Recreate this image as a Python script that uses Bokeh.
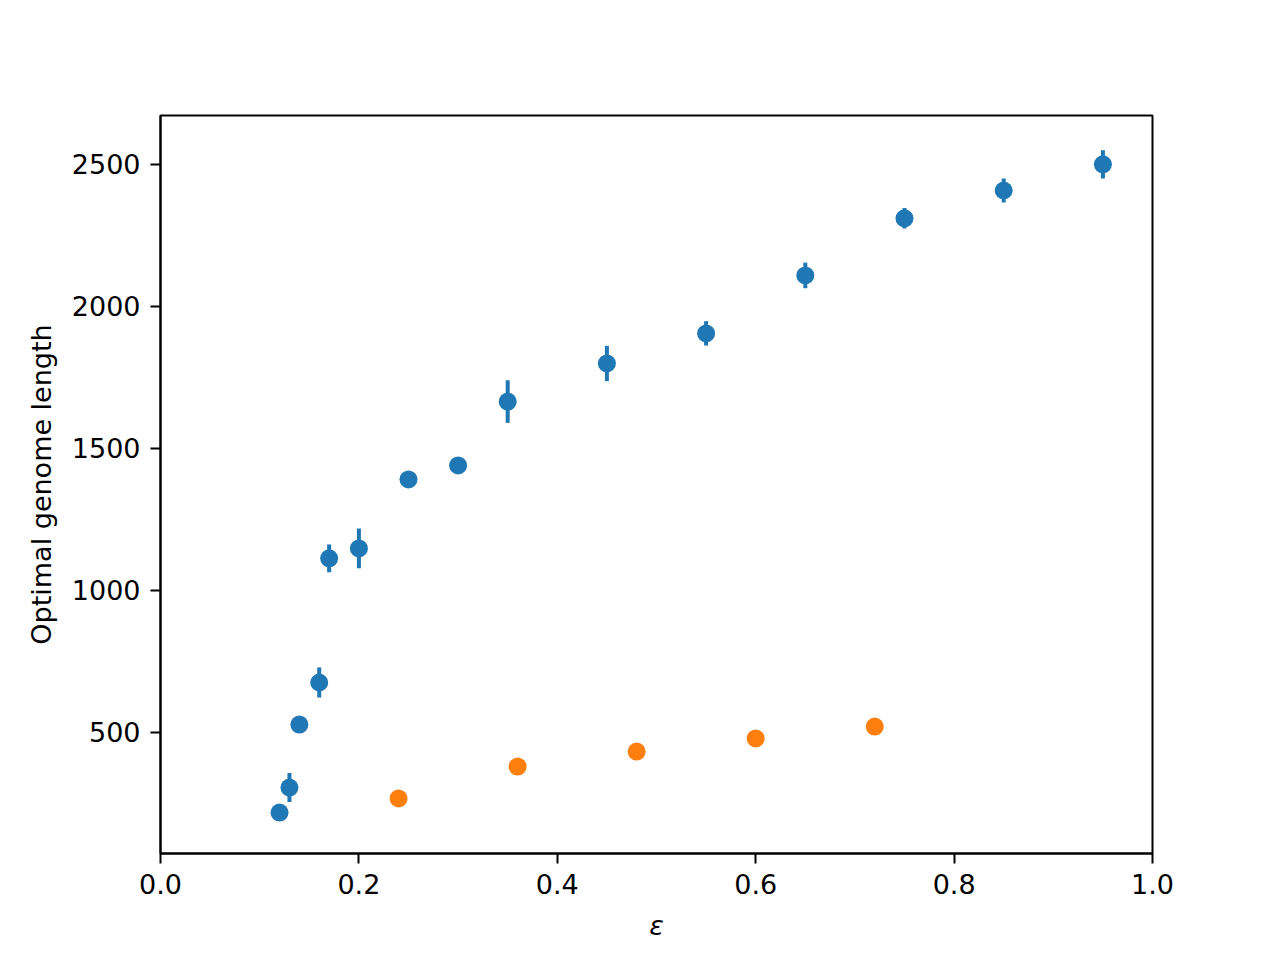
from bokeh.plotting import figure
from bokeh.models import ColumnDataSource, FixedTicker, CustomJSTickFormatter, Range1d
from bokeh.embed import file_html
from bokeh.resources import INLINE

# Blue series (with error bars)
blue_eps = [0.12, 0.13, 0.14, 0.16, 0.17, 0.20, 0.25, 0.30, 0.35, 0.45, 0.55, 0.65, 0.75, 0.85, 0.95]
blue_len = [218, 306, 528, 676, 1113, 1148, 1391, 1440, 1665, 1799, 1905, 2109, 2310, 2408, 2500]
blue_err = [15, 51, 15, 53, 49, 70, 15, 15, 75, 62, 43, 45, 36, 42, 50]

# Orange series (no error bars)
orange_eps = [0.24, 0.36, 0.48, 0.60, 0.72]
orange_len = [268, 380, 433, 479, 521]

x_ticks = [0.0, 0.2, 0.4, 0.6, 0.8, 1.0]
y_ticks = [500, 1000, 1500, 2000, 2500]

BLUE = "#1f77b4"
ORANGE = "#ff7f0e"
FONT = "DejaVu Sans"
FS = "27px"

W, H = 1264, 944
p = figure(width=W, height=H, output_backend="svg", toolbar_location=None,
           x_range=Range1d(0, 1), y_range=Range1d(74, 2672),
           min_border_left=160, min_border_right=W - 1152,
           min_border_top=115, min_border_bottom=H - 853)

p.background_fill_color = "white"
p.border_fill_color = "white"
p.outline_line_color = "black"
p.outline_line_width = 2
p.xgrid.visible = False
p.ygrid.visible = False

bsrc = ColumnDataSource(dict(x=blue_eps, y=blue_len,
                             lo=[v - e for v, e in zip(blue_len, blue_err)],
                             hi=[v + e for v, e in zip(blue_len, blue_err)]))
osrc = ColumnDataSource(dict(x=orange_eps, y=orange_len))

p.segment(x0="x", y0="lo", x1="x", y1="hi", source=bsrc, line_color=BLUE, line_width=4)
p.scatter(x="x", y="y", source=bsrc, size=18, fill_color=BLUE, line_color=None)
p.scatter(x="x", y="y", source=osrc, size=18, fill_color=ORANGE, line_color=None)

p.xaxis.ticker = FixedTicker(ticks=x_ticks)
p.xaxis.formatter = CustomJSTickFormatter(code="return tick.toFixed(1);")
p.yaxis.ticker = FixedTicker(ticks=y_ticks)

for ax in (p.xaxis, p.yaxis):
    ax.major_tick_out = 10
    ax.major_tick_in = 0
    ax.minor_tick_out = 0
    ax.minor_tick_in = 0
    ax.major_tick_line_width = 2
    ax.major_tick_line_color = "black"
    ax.axis_line_color = "black"
    ax.axis_line_width = 2
    ax.major_label_text_font = FONT
    ax.major_label_text_font_size = FS
    ax.major_label_text_color = "black"
    ax.axis_label_text_font = FONT
    ax.axis_label_text_font_size = FS
    ax.axis_label_text_color = "black"

p.xaxis.major_label_standoff = 10
p.yaxis.major_label_standoff = 10
p.xaxis.axis_label = "ε"
p.xaxis.axis_label_text_font_style = "italic"
p.xaxis.axis_label_standoff = 13
p.yaxis.axis_label = "Optimal genome length"
p.yaxis.axis_label_text_font_style = "normal"
p.yaxis.axis_label_standoff = 12

open("out.html", "w").write(file_html(p, INLINE))
